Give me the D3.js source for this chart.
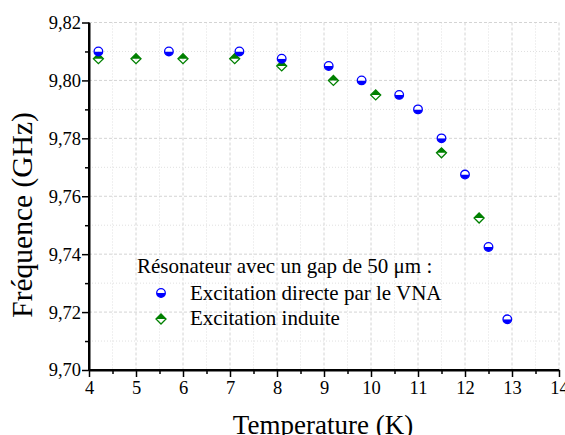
<!DOCTYPE html>
<html>
<head>
<meta charset="utf-8">
<script src="https://cdn.jsdelivr.net/npm/d3@7"></script>
<style>
  body { margin: 0; background: #fff; }
  svg { display: block; }
  svg text { font-family: "Liberation Serif", "DejaVu Serif", serif; fill: #000; }
</style>
</head>
<body>
<svg id="chart" width="565" height="435"></svg>
<script>
"use strict";

// ---- data
const directT = [4.2, 5.7, 7.2, 8.1, 9.1, 9.8, 10.6, 11.0, 11.5, 12.0, 12.5, 12.9];
const directF = [9.810, 9.810, 9.810, 9.8075, 9.805, 9.800, 9.795, 9.790, 9.780, 9.7675, 9.7425, 9.7175];
const induitT = [4.2, 5.0, 6.0, 7.1, 8.1, 9.2, 10.1, 11.5, 12.3];
const induitF = [9.8075, 9.8075, 9.8075, 9.8075, 9.805, 9.800, 9.795, 9.775, 9.7525];
const xTicks = [4, 5, 6, 7, 8, 9, 10, 11, 12, 13, 14];
const yTicks = [9.70, 9.72, 9.74, 9.76, 9.78, 9.80, 9.82];
const legendTitle = "Résonateur avec un gap de 50 μm :";
const seriesNames = ["Excitation directe par le VNA", "Excitation induite"];

const SERIF = "'Liberation Serif', 'DejaVu Serif', serif";
const svg = d3.select("#chart");
const x = d3.scaleLinear().domain([4, 14]).range([89, 559]);
const y = d3.scaleLinear().domain([9.70, 9.82]).range([370, 22.5]);

const fmt = d => d.toFixed(2).replace(".", ",");

// ---- grid (dashed on major, dotted on minor)
const grid = svg.append("g");
const xMinor = d3.range(4.5, 14, 1);
const yMinor = d3.range(9.71, 9.82, 0.02);
grid.selectAll(".vmaj").data(xTicks.slice(1)).enter().append("line")
  .attr("x1", d => x(d)).attr("x2", d => x(d)).attr("y1", y(9.82)).attr("y2", y(9.70))
  .attr("stroke", "#d4d4d4").attr("stroke-width", 1).attr("stroke-dasharray", "3,2");
grid.selectAll(".vmin").data(xMinor).enter().append("line")
  .attr("x1", d => x(d)).attr("x2", d => x(d)).attr("y1", y(9.82)).attr("y2", y(9.70))
  .attr("stroke", "#e0e0e0").attr("stroke-width", 1).attr("stroke-dasharray", "1,2");
grid.selectAll(".hmaj").data(yTicks.slice(1)).enter().append("line")
  .attr("x1", x(4)).attr("x2", x(14)).attr("y1", d => y(d)).attr("y2", d => y(d))
  .attr("stroke", "#d4d4d4").attr("stroke-width", 1).attr("stroke-dasharray", "3,2");
grid.selectAll(".hmin").data(yMinor).enter().append("line")
  .attr("x1", x(4)).attr("x2", x(14)).attr("y1", d => y(d)).attr("y2", d => y(d))
  .attr("stroke", "#e0e0e0").attr("stroke-width", 1).attr("stroke-dasharray", "1,2");

// ---- axes
const xAxis = svg.append("g").attr("transform", `translate(0,${y(9.70)})`)
  .call(d3.axisBottom(x).tickValues(xTicks).tickFormat(d3.format("d")).tickSize(7).tickSizeOuter(0).tickPadding(4));
const xAxisMinor = svg.append("g").attr("transform", `translate(0,${y(9.70)})`)
  .call(d3.axisBottom(x).tickValues(xMinor).tickFormat("").tickSize(4).tickSizeOuter(0));
const yAxis = svg.append("g").attr("transform", `translate(${x(4)},0)`)
  .call(d3.axisLeft(y).tickValues(yTicks).tickFormat(fmt).tickSize(7).tickSizeOuter(0).tickPadding(1));
const yAxisMinor = svg.append("g").attr("transform", `translate(${x(4)},0)`)
  .call(d3.axisLeft(y).tickValues(yMinor).tickFormat("").tickSize(4).tickSizeOuter(0));

[xAxis, xAxisMinor, yAxis, yAxisMinor].forEach(a => {
  a.attr("font-family", SERIF).attr("font-size", 18.5);
  a.select(".domain").attr("stroke", "#000").attr("stroke-width", 2);
  a.selectAll(".tick line").attr("stroke", "#000").attr("stroke-width", 1.5);
  a.selectAll("text").attr("fill", "#000");
});
// extend axis lines so they meet at the corner
xAxis.select(".domain").attr("d", `M${x(4) - 1},0H${x(14)}`);
yAxis.select(".domain").attr("d", `M0,${y(9.82)}V${y(9.70) + 1}`);

// ---- axis titles (the x title is clipped by the bottom edge, as in the reference)
svg.append("text").attr("x", 323).attr("y", 434).attr("text-anchor", "middle")
  .style("font-size", "27px").text("Temperature (K)");
svg.append("text").attr("transform", `translate(32,215) rotate(-90)`)
  .attr("text-anchor", "middle").style("font-size", "29.5px").text("Fréquence (GHz)");

// ---- markers: half-filled circle (bottom) and half-filled diamond (top)
function circleMark(g, cx, cy, r) {
  g.append("path")
    .attr("d", `M${cx - r},${cy} A${r},${r} 0 0 0 ${cx + r},${cy} Z`)
    .attr("fill", "#0000ff");
  g.append("path")
    .attr("d", `M${cx - r},${cy} A${r},${r} 0 0 1 ${cx + r},${cy} Z`)
    .attr("fill", "#ffffff");
  g.append("circle").attr("cx", cx).attr("cy", cy).attr("r", r)
    .attr("fill", "none").attr("stroke", "#0000ff").attr("stroke-width", 1.3);
}
function diamondMark(g, cx, cy, r) {
  g.append("path")
    .attr("d", `M${cx - r},${cy} L${cx},${cy - r} L${cx + r},${cy} Z`)
    .attr("fill", "#008000");
  g.append("path")
    .attr("d", `M${cx - r},${cy} L${cx},${cy - r} L${cx + r},${cy} L${cx},${cy + r} Z`)
    .attr("fill", "none").attr("stroke", "#008000").attr("stroke-width", 1.3);
}

const pts = svg.append("g");
induitT.forEach((t, i) => diamondMark(pts, x(t), y(induitF[i]), 5));
directT.forEach((t, i) => circleMark(pts, x(t), y(directF[i]), 4.3));

// ---- legend
const leg = svg.append("g");
leg.append("text").attr("x", 137).attr("y", 273).style("font-size", "21px").text(legendTitle);
circleMark(leg, 161, 293, 4.3);
diamondMark(leg, 161, 319, 5);
seriesNames.forEach((s, i) => {
  leg.append("text").attr("x", 190).attr("y", 299.5 + i * 25.5).style("font-size", "21px").text(s);
});
</script>
</body>
</html>
